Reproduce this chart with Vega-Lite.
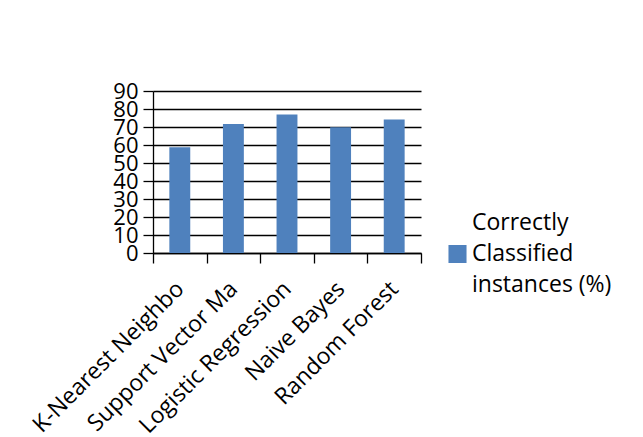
{
  "$schema": "https://vega.github.io/schema/vega-lite/v6.json",
  "width": 268,
  "height": 162,
  "autosize": {"type": "none"},
  "padding": {"left": 153, "top": 91, "right": 222, "bottom": 184},
  "background": "white",
  "data": {
    "values": [
      {"model": "K-Nearest Neighbors", "value": 58.7, "series": "Correctly Classified instances (%)"},
      {"model": "Support Vector Machine", "value": 71.6, "series": "Correctly Classified instances (%)"},
      {"model": "Logistic Regression", "value": 77.0, "series": "Correctly Classified instances (%)"},
      {"model": "Naive Bayes", "value": 69.8, "series": "Correctly Classified instances (%)"},
      {"model": "Random Forest", "value": 74.2, "series": "Correctly Classified instances (%)"}
    ]
  },
  "mark": {"type": "bar", "width": {"band": 0.39}},
  "encoding": {
    "x": {
      "field": "model",
      "type": "nominal",
      "sort": null,
      "scale": {"paddingInner": 0, "paddingOuter": 0},
      "axis": {
        "title": null,
        "tickBand": "extent",
        "tickSize": 10,
        "tickColor": "black",
        "tickWidth": 1.3,
        "domainColor": "black",
        "domainWidth": 1.3,
        "labelAngle": -45,
        "labelAlign": "right",
        "labelBaseline": "middle",
        "labelFont": "Open Sans",
        "labelFontSize": 23,
        "labelColor": "black",
        "labelPadding": 22,
        "labelLimit": 300,
        "labelExpr": "indexof(datum.label, 'K-') == 0 || indexof(datum.label, 'Support') == 0 ? slice(datum.label, 0, 17) : datum.label",
        "labelOverlap": false,
        "grid": false
      }
    },
    "y": {
      "field": "value",
      "type": "quantitative",
      "scale": {"domain": [0, 90], "nice": false},
      "axis": {
        "title": null,
        "values": [0, 10, 20, 30, 40, 50, 60, 70, 80, 90],
        "grid": true,
        "gridColor": "black",
        "gridWidth": 1.3,
        "domainColor": "black",
        "domainWidth": 1.3,
        "tickColor": "black",
        "tickWidth": 1.3,
        "tickSize": 10,
        "labelFont": "Open Sans",
        "labelFontSize": 22,
        "labelColor": "black",
        "labelPadding": 5,
        "labelOverlap": false,
        "labelFlush": false,
        "labelBaseline": "middle"
      }
    },
    "color": {
      "field": "series",
      "type": "nominal",
      "scale": {"range": ["#4F81BD"]},
      "legend": {
        "title": null,
        "orient": "none",
        "legendX": 293,
        "legendY": 120,
        "symbolType": "M-1.29,3.21H1.29V5.79H-1.29Z",
        "symbolSize": 196,
        "symbolStrokeWidth": 0,
        "labelFont": "Open Sans",
        "labelFontSize": 23,
        "labelColor": "black",
        "labelOffset": 3,
        "labelLimit": 300,
        "labelBaseline": "middle",
        "labelExpr": "['Correctly', 'Classified', 'instances (%)']"
      }
    }
  },
  "config": {"view": {"stroke": null}, "style": {"guide-label": {"lineHeight": 31}}}
}
